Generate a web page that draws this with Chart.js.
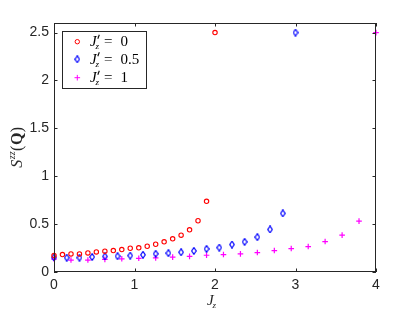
<!DOCTYPE html>
<html>
<head>
<meta charset="utf-8">
<script src="https://cdn.jsdelivr.net/npm/chart.js@4.4.0/dist/chart.umd.min.js"></script>
<style>
  html, body { margin: 0; padding: 0; background: #fff; }
  #wrap { width: 415px; height: 312px; }
</style>
</head>
<body>
<div id="wrap"><canvas id="szz"></canvas></div>
<script>
// J'_z = 0
const jz0 = [0, 0.105, 0.211, 0.316, 0.421, 0.526, 0.632, 0.737, 0.842, 0.947,
             1.053, 1.158, 1.263, 1.368, 1.474, 1.579, 1.684, 1.789, 1.895, 2.0];
const szz0 = [0.171, 0.182, 0.189, 0.189, 0.199, 0.21, 0.217, 0.224, 0.234, 0.248,
              0.252, 0.269, 0.29, 0.315, 0.346, 0.385, 0.44, 0.535, 0.738, 2.5];
// J'_z = 0.5
const jz05 = [0, 0.158, 0.316, 0.474, 0.632, 0.789, 0.947, 1.105, 1.263, 1.421,
              1.579, 1.737, 1.895, 2.053, 2.211, 2.368, 2.526, 2.684, 2.842, 3.0];
const szz05 = [0.152, 0.15, 0.15, 0.157, 0.162, 0.165, 0.171, 0.18, 0.19, 0.197,
               0.206, 0.22, 0.241, 0.255, 0.287, 0.315, 0.364, 0.444, 0.612, 2.5];
// J'_z = 1
const jz1 = [0, 0.211, 0.421, 0.632, 0.842, 1.053, 1.263, 1.474, 1.684, 1.895,
             2.105, 2.316, 2.526, 2.737, 2.947, 3.158, 3.368, 3.579, 3.789, 4.0];
const szz1 = [0.135, 0.125, 0.125, 0.132, 0.138, 0.143, 0.148, 0.155, 0.163, 0.175,
              0.182, 0.189, 0.203, 0.224, 0.245, 0.266, 0.318, 0.385, 0.531, 2.5];

const legendVals = ['0', '0.5', '1'];
const xTicks = [0, 1, 2, 3, 4];
const yTicks = [0, 0.5, 1, 1.5, 2, 2.5];

const axisColor = '#262626';

// narrow diamond marker, like matlab's 'd'
const diamond = document.createElement('canvas');
diamond.width = 6; diamond.height = 8;
(function () {
    const c = diamond.getContext('2d');
    c.strokeStyle = '#0000ff';
    c.lineWidth = 1.2;
    c.beginPath();
    c.moveTo(3, 0.7); c.lineTo(5.3, 4); c.lineTo(3, 7.3); c.lineTo(0.7, 4);
    c.closePath();
    c.stroke();
})();

function pts(xs, ys) {
    return xs.map((x, i) => ({ x: x, y: ys[i] }));
}

const series = [
    { data: pts(jz0, szz0), color: '#ff0000', style: 'circle', radius: 2.2 },
    { data: pts(jz05, szz05), color: '#0000ff', style: diamond, radius: 4 },
    { data: pts(jz1, szz1), color: '#ff00ff', style: 'cross', radius: 2.8 }
];

// draws box, inward ticks, legend and axis titles
const decor = {
    id: 'decor',
    afterDraw(chart) {
        const ctx = chart.ctx;
        const a = chart.chartArea;
        const xs = chart.scales.x, ys = chart.scales.y;
        ctx.save();
        ctx.strokeStyle = axisColor;
        ctx.lineWidth = 1;
        ctx.strokeRect(a.left + 0.5, a.top + 0.5, a.right - a.left - 1, a.bottom - a.top - 1);
        ctx.beginPath();
        xTicks.forEach(v => {
            const p = Math.round(xs.getPixelForValue(v)) + 0.5;
            ctx.moveTo(p, a.bottom); ctx.lineTo(p, a.bottom - 3.5);
            ctx.moveTo(p, a.top); ctx.lineTo(p, a.top + 3.5);
        });
        yTicks.forEach(v => {
            const p = Math.round(ys.getPixelForValue(v)) + 0.5;
            ctx.moveTo(a.left, p); ctx.lineTo(a.left + 3.5, p);
            ctx.moveTo(a.right, p); ctx.lineTo(a.right - 3.5, p);
        });
        ctx.stroke();

        // legend
        const lx = 62, ly = 31, lw = 84, lh = 57;
        ctx.fillStyle = '#fff';
        ctx.fillRect(lx, ly, lw, lh);
        ctx.strokeStyle = axisColor;
        ctx.strokeRect(lx + 0.5, ly + 0.5, lw, lh);
        const rows = [41.7, 59.3, 77.7];
        rows.forEach((ry, i) => {
            const s = series[i];
            ctx.strokeStyle = s.color;
            ctx.lineWidth = 1;
            if (s.style === 'circle') {
                ctx.beginPath(); ctx.arc(77.3, ry, s.radius, 0, Math.PI * 2); ctx.stroke();
            } else if (s.style === 'cross') {
                ctx.beginPath();
                ctx.moveTo(77.3 - s.radius, ry); ctx.lineTo(77.3 + s.radius, ry);
                ctx.moveTo(77.3, ry - s.radius); ctx.lineTo(77.3, ry + s.radius);
                ctx.stroke();
            } else {
                ctx.drawImage(diamond, 77.3 - 3, ry - 4);
            }
            const base = ry + 4.5;
            ctx.fillStyle = '#000';
            ctx.textBaseline = 'alphabetic';
            ctx.textAlign = 'left';
            ctx.font = 'italic 15px "Liberation Serif"';
            ctx.fillText('J', 90, base);
            // prime
            ctx.strokeStyle = '#000';
            ctx.lineWidth = 1.1;
            ctx.beginPath();
            ctx.moveTo(99.3, base - 11.5); ctx.lineTo(97.8, base - 7.5);
            ctx.stroke();
            ctx.font = 'italic 9px "Liberation Serif"';
            ctx.fillText('z', 95.5, base + 3);
            ctx.font = '15px "Liberation Serif"';
            ctx.fillText('=', 104, base);
            ctx.fillText(legendVals[i], 120.5, base);
        });

        // x title J_z
        ctx.fillStyle = axisColor;
        ctx.font = 'italic 15px "Liberation Serif"';
        ctx.fillText('J', 207, 305);
        ctx.font = 'italic 9px "Liberation Serif"';
        ctx.fillText('z', 212.5, 308);

        // y title S^zz(Q)
        ctx.translate(22, 147);
        ctx.rotate(-Math.PI / 2);
        const parts = [
            ['S', 'italic 16px "Liberation Serif"', 0],
            ['zz', 'italic 10px "Liberation Serif"', -7],
            ['(', '16px "Liberation Serif"', 0],
            ['Q', 'bold 16px "Liberation Serif"', 0],
            [')', '16px "Liberation Serif"', 0]
        ];
        let total = 0;
        parts.forEach(p => { ctx.font = p[1]; total += ctx.measureText(p[0]).width + 0.5; });
        let cx = -total / 2;
        parts.forEach(p => {
            ctx.font = p[1];
            ctx.fillText(p[0], cx, p[2]);
            cx += ctx.measureText(p[0]).width + 0.5;
        });
        ctx.restore();
    }
};

new Chart(document.getElementById('szz'), {
    type: 'scatter',
    data: {
        datasets: series.map(s => ({
            data: s.data,
            pointStyle: s.style,
            pointRadius: s.radius,
            pointHoverRadius: s.radius,
            pointBorderWidth: s.style === 'circle' ? 1.1 : 1.2,
            borderColor: s.color,
            backgroundColor: 'rgba(0,0,0,0)',
            showLine: false,
            clip: false
        }))
    },
    options: {
        responsive: true,
        maintainAspectRatio: false,
        animation: false,
        events: [],
        layout: { padding: { top: 23, right: 39, left: 0, bottom: 0 } },
        plugins: { legend: { display: false }, tooltip: { enabled: false } },
        scales: {
            x: {
                type: 'linear', min: 0, max: 4,
                afterBuildTicks: s => { s.ticks = xTicks.map(v => ({ value: v })); },
                afterFit: s => { s.height = 40; },
                grid: { display: false, drawTicks: false },
                border: { display: false },
                ticks: { color: axisColor, padding: 5, maxRotation: 0,
                         font: { family: '"Liberation Sans"', size: 14 },
                         callback: v => String(v) }
            },
            y: {
                type: 'linear', min: 0, max: 2.6,
                afterBuildTicks: s => { s.ticks = yTicks.map(v => ({ value: v })); },
                afterFit: s => { s.width = 54; },
                grid: { display: false, drawTicks: false },
                border: { display: false },
                ticks: { color: axisColor, padding: 5,
                         font: { family: '"Liberation Sans"', size: 14 },
                         callback: v => String(v) }
            }
        }
    },
    plugins: [decor]
});
</script>
</body>
</html>
